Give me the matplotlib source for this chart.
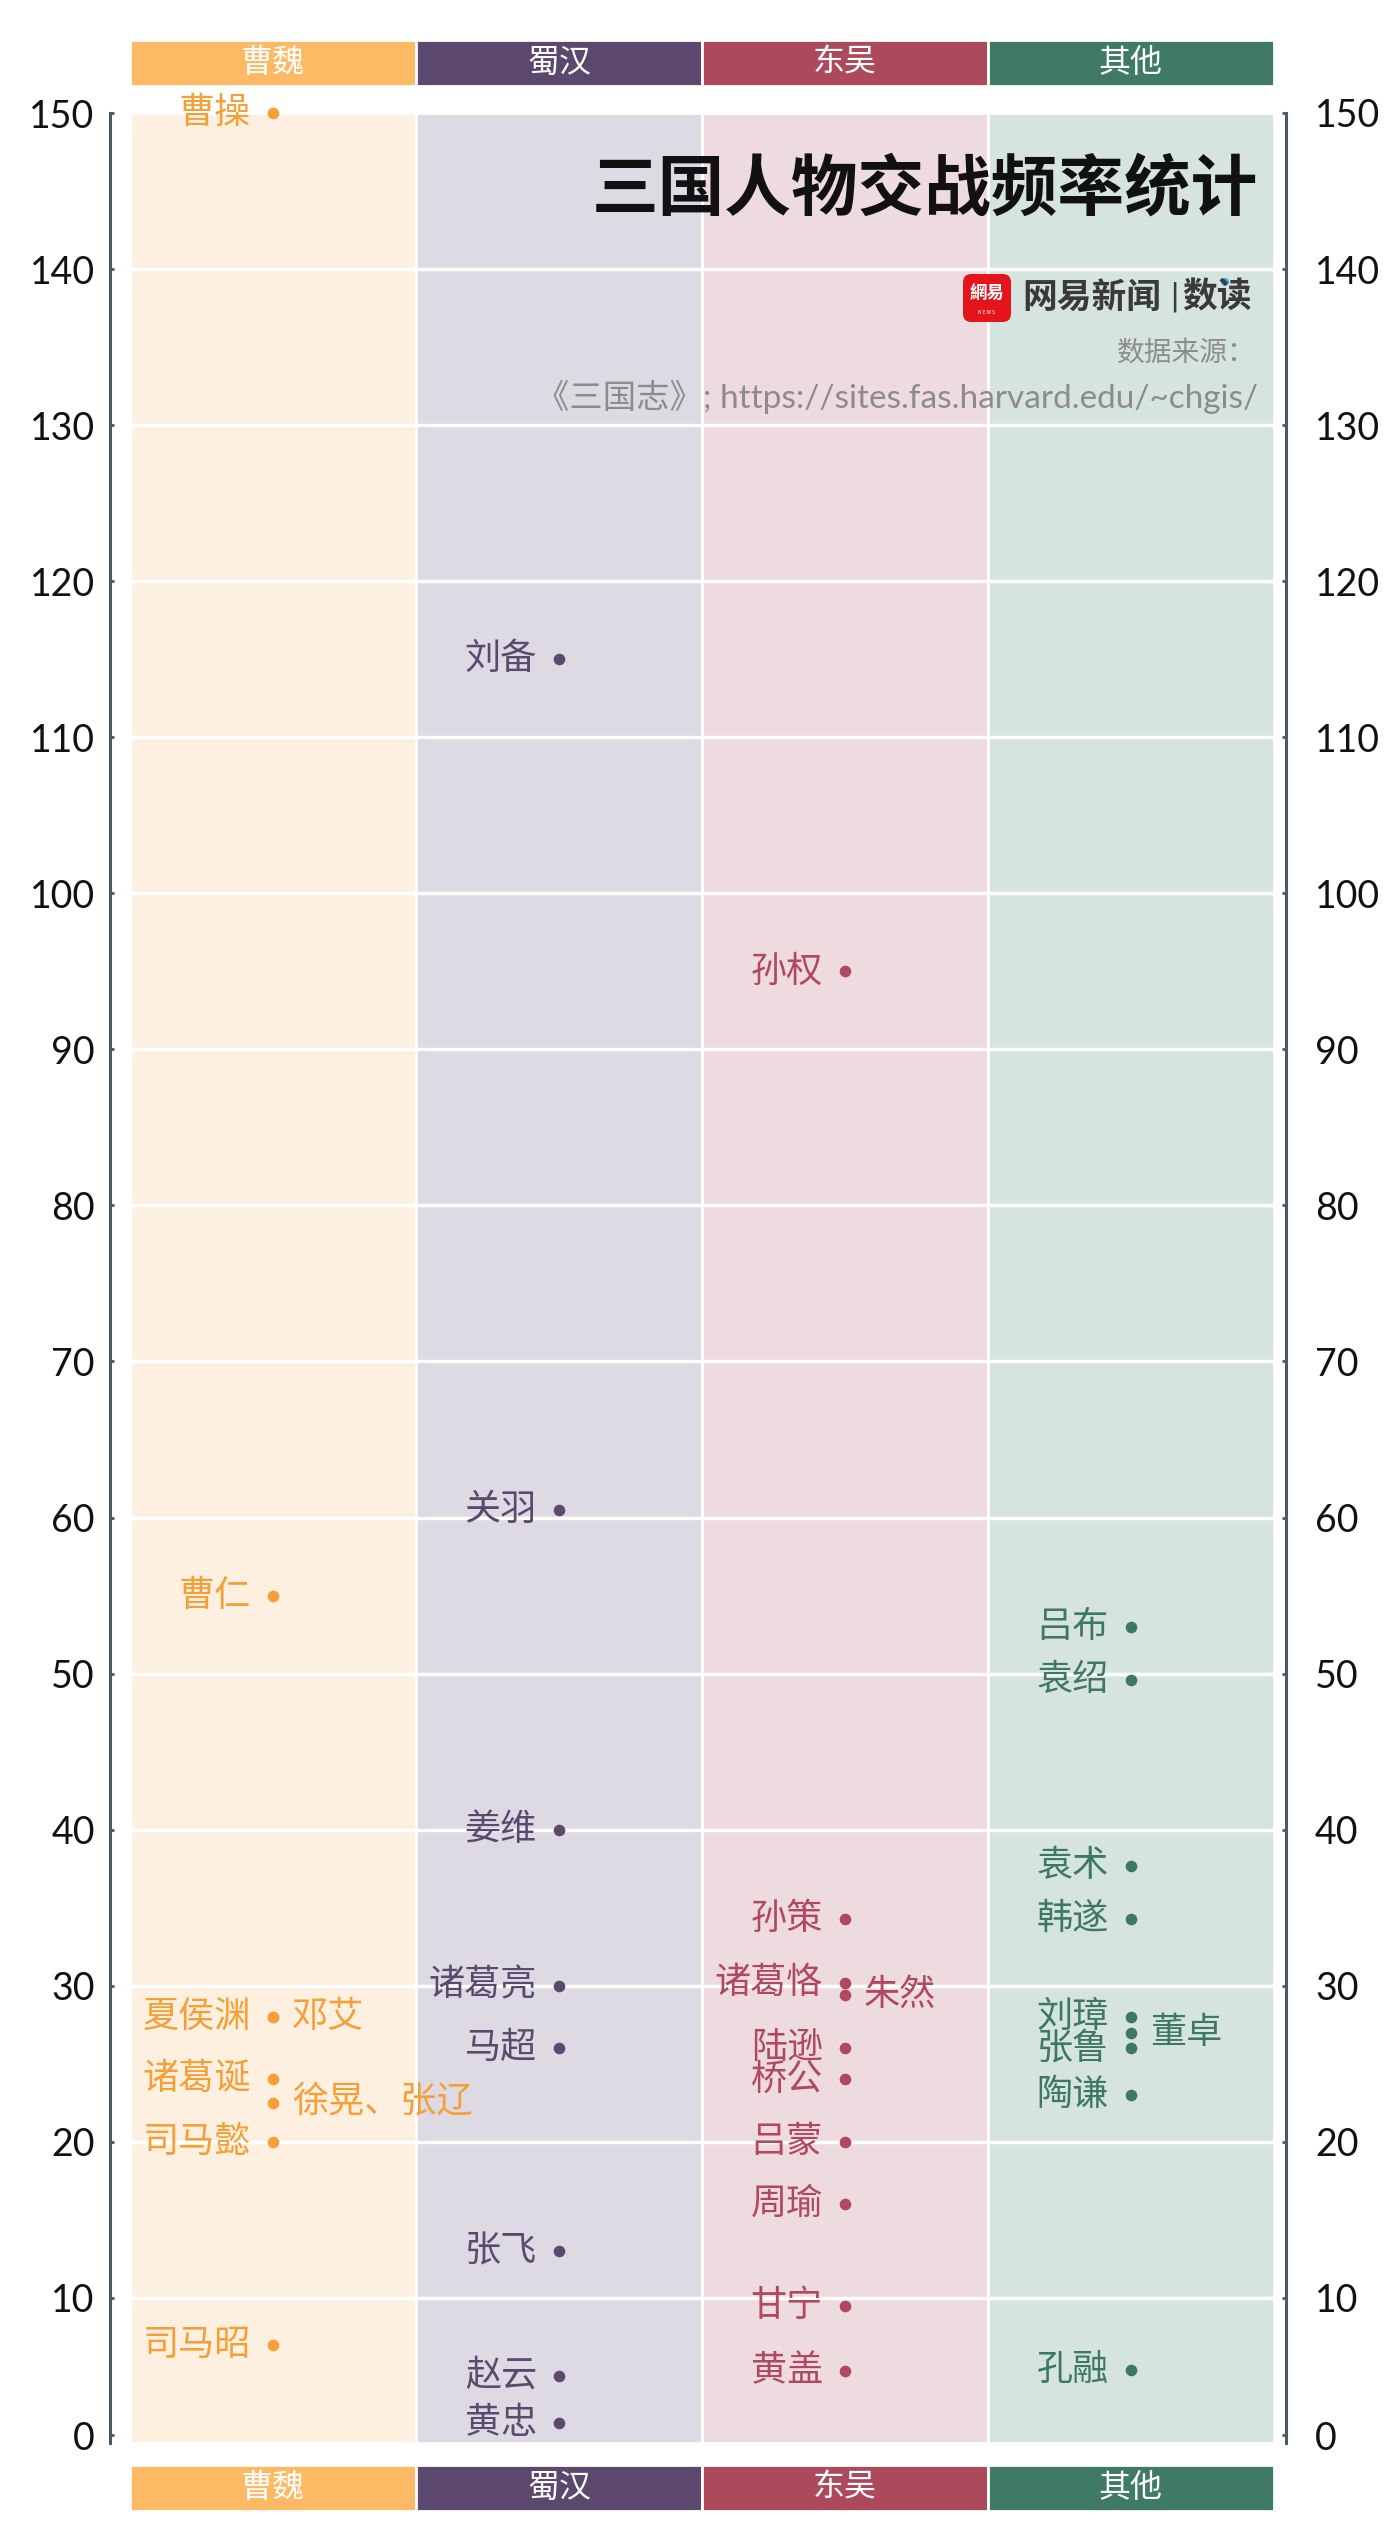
import matplotlib
matplotlib.use('Agg')
import matplotlib.pyplot as plt
from matplotlib.patches import FancyBboxPatch, Ellipse

plt.rcParams['font.family'] = ['Noto Sans CJK SC', 'DejaVu Sans']

factions = ['曹魏', '蜀汉', '东吴', '其他']

wei_names = ['曹操', '曹仁', '夏侯渊', '邓艾', '诸葛诞', '徐晃、张辽', '司马懿', '司马昭']
wei_values = [150, 55, 28, 28, 24, 22.5, 20, 7]
wei_sides = ['L', 'L', 'L', 'R', 'L', 'R', 'L', 'L']

shu_names = ['刘备', '关羽', '姜维', '诸葛亮', '马超', '张飞', '赵云', '黄忠']
shu_values = [115, 60.5, 40, 30, 26, 13, 5, 2]
shu_sides = ['L'] * 8

wu_names = ['孙权', '孙策', '诸葛恪', '朱然', '陆逊', '桥公', '吕蒙', '周瑜', '甘宁', '黄盖']
wu_values = [95, 34.3, 30.2, 29.4, 26, 24, 20, 16, 9.5, 5.3]
wu_sides = ['L', 'L', 'L', 'R', 'L', 'L', 'L', 'L', 'L', 'L']

other_names = ['吕布', '袁绍', '袁术', '韩遂', '刘璋', '董卓', '张鲁', '陶谦', '孔融']
other_values = [53, 49.6, 37.7, 34.3, 28, 27, 26, 23, 5.4]
other_sides = ['L', 'L', 'L', 'L', 'L', 'R', 'L', 'L', 'L']

yticks = [0, 10, 20, 30, 40, 50, 60, 70, 80, 90, 100, 110, 120, 130, 140, 150]

header_colors = ['#FDB964', '#5C486E', '#AC4A5C', '#3E7A64']
bg_colors = ['#FEF0E0', '#DDDAE3', '#EEDBE0', '#D6E4DF']
text_colors = ['#F5A037', '#5A4B6E', '#B04860', '#3C7862']
spine_color = '#4B5966'

W, H = 1400, 2546
y_min = 0.7

def fx(px):
    return px / W

def fy(px):
    return 1 - px / H

fig = plt.figure(figsize=(W / 100, H / 100), dpi=100)

ax = fig.add_axes([fx(130), fy(2443), (1274 - 130) / W, (2443 - 113) / H])
ax.set_xlim(-0.5, 3.5)
ax.set_ylim(y_min, 150)

# column backgrounds
ax.bar(range(4), 150 - y_min, bottom=y_min, width=1, color=bg_colors,
       edgecolor='white', linewidth=2, zorder=0)
ax.hlines(yticks[1:-1], -0.5, 3.5, colors='white', linewidth=2.5, zorder=1)

groups = [(wei_names, wei_values, wei_sides),
          (shu_names, shu_values, shu_sides),
          (wu_names, wu_values, wu_sides),
          (other_names, other_values, other_sides)]

for i, (names, values, sides) in enumerate(groups):
    ax.scatter([i] * len(values), values, s=70, color=text_colors[i],
               zorder=3, clip_on=False, linewidths=0)
    for name, v, side in zip(names, values, sides):
        if side == 'L':
            ax.annotate(name, (i, v), xytext=(-22, 0), textcoords='offset pixels',
                        ha='right', va='center', fontsize=26, color=text_colors[i],
                        weight='light', zorder=4, annotation_clip=False)
        else:
            ax.annotate(name, (i, v), xytext=(19, 0), textcoords='offset pixels',
                        ha='left', va='center', fontsize=26, color=text_colors[i],
                        weight='light', zorder=4, annotation_clip=False)

# axes / ticks
tick_pos = [1.2] + yticks[1:]
tick_lab = [str(t) for t in yticks]
ax.set_xticks([])
for s in ['top', 'bottom', 'right']:
    ax.spines[s].set_visible(False)
ax.spines['left'].set_position(('outward', 14.4))
ax.spines['left'].set_color(spine_color)
ax.spines['left'].set_linewidth(2.2)
ax.set_yticks(tick_pos)
ax.set_yticklabels(tick_lab, fontfamily='Lato', fontweight='normal', fontsize=27, color='#111111')
ax.tick_params(axis='y', direction='in', length=3, width=2, color=spine_color, pad=11)

ax2 = ax.twinx()
ax2.set_ylim(y_min, 150)
for s in ['top', 'bottom', 'left']:
    ax2.spines[s].set_visible(False)
ax2.spines['right'].set_position(('outward', 8.6))
ax2.spines['right'].set_color(spine_color)
ax2.spines['right'].set_linewidth(2.2)
ax2.set_yticks(tick_pos)
ax2.set_yticklabels(tick_lab, fontfamily='Lato', fontweight='normal', fontsize=27, color='#111111')
ax2.tick_params(axis='y', direction='in', length=3, width=2, color=spine_color, pad=21)

# headers top and bottom
for top in [40, 2465]:
    hx = fig.add_axes([fx(130), fy(top + 46), (1274 - 130) / W, 46 / H])
    hx.set_xlim(-0.5, 3.5)
    hx.set_ylim(0, 1)
    hx.bar(range(4), 1, width=1, color=header_colors, edgecolor='white', linewidth=2)
    for i, f in enumerate(factions):
        hx.text(i, 0.5, f, ha='center', va='center', color='white', fontsize=23, weight='light')
    hx.axis('off')

# title and credits
fig.text(fx(1258), fy(190), '三国人物交战频率统计', ha='right', va='center',
         fontsize=48, weight='bold', color='#111111')

logo = FancyBboxPatch((fx(963), fy(322)), 48 / W, 48 / H,
                      boxstyle='round,pad=0,rounding_size=0.006',
                      transform=fig.transFigure, facecolor='#E3141B', edgecolor='none',
                      mutation_aspect=W / H)
fig.add_artist(logo)
fig.text(fx(987), fy(293), '網易', ha='center', va='center', fontsize=12.5,
         weight='bold', color='white')
fig.text(fx(987), fy(312), 'N E W S', ha='center', va='center', fontsize=3.5, color='white')

fig.text(fx(1022), fy(297), '网易新闻', ha='left', va='center', fontsize=25,
         weight='bold', color='#3A3A3A')
fig.text(fx(1174), fy(297), '|', ha='center', va='center', fontsize=22,
         color='#3A3A3A', family='DejaVu Sans')
fig.text(fx(1252), fy(297), '数读', ha='right', va='center', fontsize=25,
         weight='bold', color='#3A3A3A')
fig.add_artist(Ellipse((fx(1225), fy(282)), 8 / W, 8 / H, transform=fig.transFigure,
                       facecolor='#3BA7E0', edgecolor='none'))

fig.text(fx(1256), fy(353), '数据来源：', ha='right', va='center', fontsize=20,
         weight='light', color='#8C8C8C')
fig.text(fx(1258), fy(397), '《三国志》; https://sites.fas.harvard.edu/~chgis/', ha='right',
         va='center', fontsize=24, weight='normal', color='#8C8C8C',
         family=['Lato', 'Noto Sans CJK SC'])

fig.savefig('out.png', dpi=100, facecolor='white')
